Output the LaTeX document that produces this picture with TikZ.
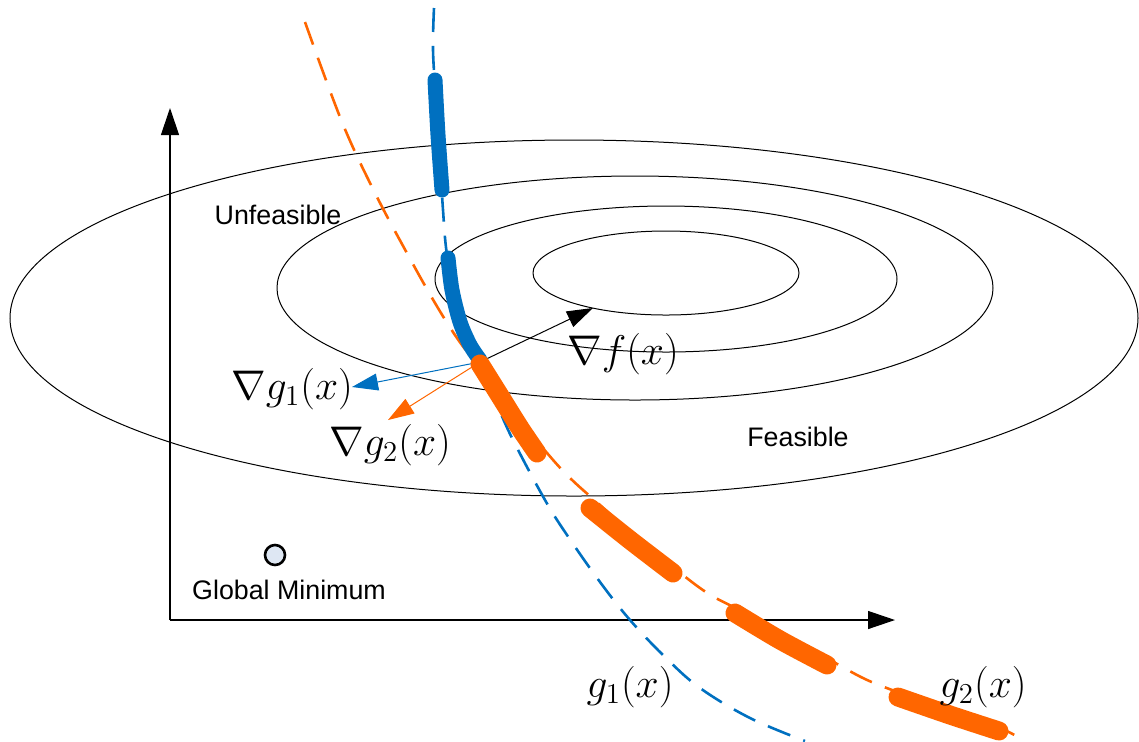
\documentclass[tikz,border=0pt]{standalone}
\usepackage{fontspec}
\setsansfont{Liberation Sans}
\usetikzlibrary{arrows.meta}
\definecolor{gblue}{RGB}{0,112,192}
\definecolor{gorange}{RGB}{255,102,0}
\definecolor{minfill}{RGB}{222,231,243}
\tikzset{
  contour/.style={black, line width=0.5pt},
  cdash/.style={line width=1.3pt, dash pattern=on 12pt off 7pt},
  activeseg/.style={line width=#1, line cap=round, line join=round},
  axisline/.style={line width=0.6pt, -{Triangle[length=13.5pt,width=9pt]}},
  grad/.style={line width=0.5pt, -{Triangle[length=13pt,width=8.5pt]}},
  lbl/.style={font=\fontsize{13.4}{16}\sffamily},
  mlbl/.style={font=\fontsize{20}{24}\selectfont}
}
\begin{document}
\begin{tikzpicture}[x=0.5pt,y=-0.5pt]
\useasboundingbox (0,0) rectangle (1139,741);
% level sets of f
\draw[contour] (574,318) ellipse [x radius=564, y radius=178];
\draw[contour] (635,288) ellipse [x radius=358, y radius=112];
\draw[contour] (666,279) ellipse [x radius=231, y radius=73];
\draw[contour] (666,273) ellipse [x radius=133, y radius=42];
% axes
\coordinate (o) at (170,620);
\coordinate (ytip) at (170,108);
\coordinate (xtip) at (895,620);
\draw[axisline] (o) -- (ytip);
\draw[axisline] (o) -- (xtip);
% constraints
\draw[gorange, cdash] plot[smooth, tension=0.6] coordinates {(305,22) (342,122) (375,193) (408,255) (435,303) (457,338) (478,366) (510,407) (542,447) (568,476) (600,505) (640,540) (700,588) (735,608) (780,633) (830,660) (865,679) (900,693) (960,715) (1000,728) (1025,741)};
\draw[gblue, cdash] plot[smooth, tension=0.6] coordinates {(434,8) (433,50) (436,100) (440,160) (443,210) (447,255) (457,305) (468,338) (480,362) (496,402) (513,440) (545,500) (567,535) (600,582) (630,620) (665,657) (700,688) (750,718) (805,741)};
% gradients
\coordinate (x0) at (480,362);
\coordinate (gf) at (593,308);
\coordinate (gone) at (352,387);
\coordinate (gtwo) at (388,420);
\draw[grad] (x0) -- (gf);
\draw[grad, gblue] (x0) -- (gone);
\draw[grad, gorange] (x0) -- (gtwo);
% active parts
\draw[gblue, activeseg=7.5pt] plot[smooth] coordinates {(435,80) (438,135) (442,190)};
\draw[gblue, activeseg=7.5pt] plot[smooth] coordinates {(448,258) (452,290) (460,322) (470,345) (480,360)};
\draw[gorange, activeseg=9.5pt] plot[smooth] coordinates {(480,364) (500,396) (520,428) (537,453)};
\draw[gorange, activeseg=9.5pt] plot[smooth] coordinates {(590,508) (630,540) (673,573)};
\draw[gorange, activeseg=9.5pt] plot[smooth] coordinates {(735,613) (780,640) (827,665)};
\draw[gorange, activeseg=9.5pt] plot[smooth] coordinates {(898,697) (950,715) (999,731)};
% labels
\node[mlbl] (lf) at (623,354) {$\nabla f(x)$};
\node[mlbl] (lgone) at (292,389) {$\nabla g_1(x)$};
\node[mlbl] (lgtwo) at (390,445) {$\nabla g_2(x)$};
\node[mlbl] (gonelbl) at (630,687) {$g_1(x)$};
\node[mlbl] (gtwolbl) at (983,687) {$g_2(x)$};
\node[lbl] (unf) at (278,215) {Unfeasible};
\node[lbl] (fea) at (798,437) {Feasible};
\node[circle, draw, line width=1.3pt, fill=minfill, minimum size=10pt, inner sep=0pt] (gmin) at (275,555) {};
\node[lbl] (gminlbl) at (289,590) {Global Minimum};
\end{tikzpicture}
\end{document}
